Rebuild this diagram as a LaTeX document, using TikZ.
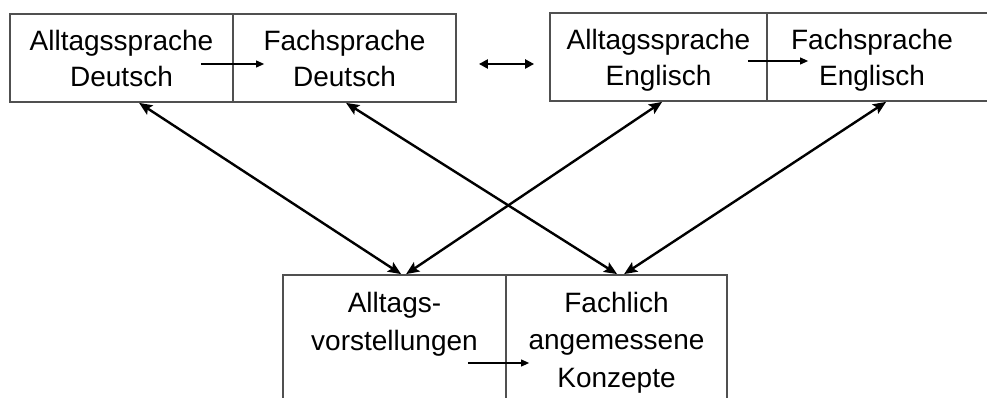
\documentclass[tikz,border=0pt]{standalone}
\usepackage{fontspec}
\setmainfont{Liberation Sans}
\usetikzlibrary{arrows.meta,calc}
\definecolor{boxgray}{HTML}{505050}
\begin{document}
\begin{tikzpicture}[x=1pt,y=-1pt,
  cell/.style={draw=boxgray, line width=1.8pt, inner sep=0pt},
  lbl/.style={anchor=base, align=center, inner sep=0pt, font=\fontsize{28}{36}\selectfont},
  lblb/.style={anchor=base, align=center, inner sep=0pt, font=\fontsize{28}{37.5}\selectfont},
  diag/.style={line width=2.4pt, {Stealth[length=13pt,width=11pt,inset=2.5pt]}-{Stealth[length=13pt,width=11pt,inset=2.5pt]}},
  small/.style={line width=1.1pt, -{Triangle[length=8pt,width=7pt]}},
  dbl/.style={line width=2.8pt, {Triangle[length=9pt,width=9pt]}-{Triangle[length=9pt,width=9pt]}}]
\useasboundingbox (0,0) rectangle (987,398);
% cells
\node[cell, minimum width=223, minimum height=88] (A) at (121.5,58) {};
\node[cell, minimum width=223, minimum height=88] (B) at (344.5,58) {};
\node[cell, minimum width=217, minimum height=88] (C) at (658.5,57) {};
\node[cell, minimum width=228, minimum height=88] (D) at (881,57) {};
\node[cell, minimum width=223, minimum height=155] (E) at (394.5,352.5) {};
\node[cell, minimum width=221, minimum height=155] (F) at (616.5,352.5) {};
% texts
\node[lbl] (tA) at (121.5,87) {Alltagssprache\\Deutsch};
\node[lbl] (tB) at (344.5,87) {Fachsprache\\Deutsch};
\node[lbl] (tC) at (658.5,86) {Alltagssprache\\Englisch};
\node[lbl] (tD) at (872,86) {Fachsprache\\Englisch};
\node[lblb] (tE) at (394.5,350) {Alltags-\\vorstellungen};
\node[lblb] (tF) at (616.5,387) {Fachlich\\angemessene\\Konzepte};
% small arrows
\draw[small] ($(A.east)+(-33,6)$) -- ($(B.west)+(32,6)$);
\draw[small] ($(C.east)+(-20,4)$) -- ($(D.west)+(42,4)$);
\draw[small] ($(E.east)+(-39,10.5)$) -- ($(F.west)+(24,10.5)$);
% double arrow
\draw[dbl] ($(B.east)+(22,6)$) -- ($(C.west)+(-15,7)$);
% diagonal arrows
\draw[diag] ($(A.south west)+(130,0)$) -- ($(E.north west)+(119,0)$);
\draw[diag] ($(B.south west)+(114,0)$) -- ($(F.north west)+(112,0)$);
\draw[diag] ($(C.south west)+(113,0)$) -- ($(E.north west)+(124,0)$);
\draw[diag] ($(D.south west)+(120,0)$) -- ($(F.north west)+(119,0)$);
\end{tikzpicture}
\end{document}
